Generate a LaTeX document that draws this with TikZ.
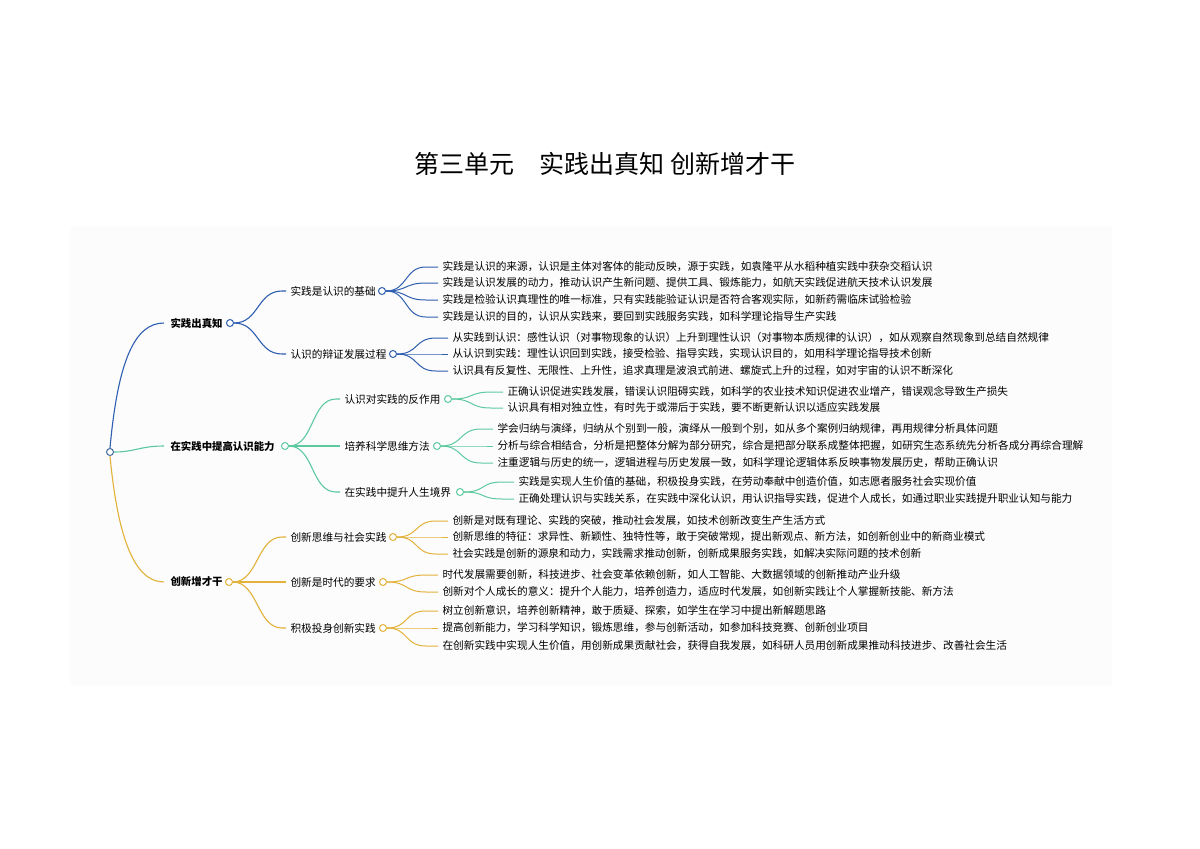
\documentclass[tikz,border=0pt]{standalone}
\usepackage{fontspec}
\setmainfont{Noto Sans CJK SC}
\usepackage{tikz}
\definecolor{bluel}{HTML}{2E5FB0}
\definecolor{greenl}{HTML}{5CC9A0}
\definecolor{orangel}{HTML}{E2B23A}
\begin{document}
\begin{tikzpicture}[x=1pt, y=-1pt, line width=1.1pt,
  txt/.style={anchor=west, inner sep=0pt, font=\fontsize{10.65}{12}\selectfont},
  dot/.style={circle, draw, fill=white, line width=1pt, inner sep=0pt, minimum size=7pt}]

\useasboundingbox (0,0) rectangle (1200,849);
\fill[gray!2] (70,226) rectangle (1112,686);

% Titre
\node (title) at (605,164) {\fontsize{25}{30}\selectfont 第三单元\quad 实践出真知 创新增才干};

% Racine
\node[dot, draw=bluel!70!gray] (R) at (110,452) {};

% Les branches principales
\node[txt, font=\fontsize{10.4}{12}\selectfont\bfseries] (M1) at (170,323) {实践出真知};
\node[txt, font=\fontsize{10.4}{12}\selectfont\bfseries] (M2) at (170,446) {在实践中提高认识能力};
\node[txt, font=\fontsize{10.4}{12}\selectfont\bfseries] (M3) at (170,582) {创新增才干};
\node[dot, draw=bluel] (m1) at (230,323) {};
\node[dot, draw=greenl] (m2) at (285,446) {};
\node[dot, draw=orangel] (m3) at (229,582) {};
\draw[bluel] (R.north) .. controls (118,360) and (135,323) .. ([xshift=-6pt]M1.west);
\draw[greenl] (R.east) .. controls (135,452) and (140,446) .. ([xshift=-6pt]M2.west);
\draw[orangel] (R.south) .. controls (118,540) and (135,582) .. ([xshift=-6pt]M3.west);

% Les sous-branches
\foreach \t/\x/\y/\cx/\col [count=\i] in {
  实践是认识的基础/290/291/382/bluel,
  认识的辩证发展过程/290/354/393/bluel,
  认识对实践的反作用/344/399/448/greenl,
  培养科学思维方法/344/446/437/greenl,
  在实践中提升人生境界/344/492/460/greenl,
  创新思维与社会实践/290/537/393/orangel,
  创新是时代的要求/290/582/383/orangel,
  积极投身创新实践/290/628/383/orangel}
{
  \node[txt] (S\i) at (\x,\y) {\t};
  \node[dot, draw=\col] (s\i) at (\cx,\y) {};
}
\foreach \p/\i/\col in {m1/1/bluel, m1/2/bluel, m2/3/greenl, m2/4/greenl, m2/5/greenl,
  m3/6/orangel, m3/7/orangel, m3/8/orangel}
  \draw[\col] (\p.east) .. controls +(25,0) and +(-25,0) .. ([xshift=-8pt]S\i.west) -- ([xshift=-4pt]S\i.west);

% Les feuilles
\foreach \s/\x/\y/\col/\t [count=\j] in {
  1/442/267/bluel/{实践是认识的来源，认识是主体对客体的能动反映，源于实践，如袁隆平从水稻种植实践中获杂交稻认识},
  1/442/283/bluel/{实践是认识发展的动力，推动认识产生新问题、提供工具、锻炼能力，如航天实践促进航天技术认识发展},
  1/442/300/bluel/{实践是检验认识真理性的唯一标准，只有实践能验证认识是否符合客观实际，如新药需临床试验检验},
  1/442/317/bluel/{实践是认识的目的，认识从实践来，要回到实践服务实践，如科学理论指导生产实践},
  2/452/338/bluel/{从实践到认识：感性认识（对事物现象的认识）上升到理性认识（对事物本质规律的认识），如从观察自然现象到总结自然规律},
  2/452/354/bluel/{从认识到实践：理性认识回到实践，接受检验、指导实践，实现认识目的，如用科学理论指导技术创新},
  2/452/371/bluel/{认识具有反复性、无限性、上升性，追求真理是波浪式前进、螺旋式上升的过程，如对宇宙的认识不断深化},
  3/507/392/greenl/{正确认识促进实践发展，错误认识阻碍实践，如科学的农业技术知识促进农业增产，错误观念导致生产损失},
  3/507/408/greenl/{认识具有相对独立性，有时先于或滞后于实践，要不断更新认识以适应实践发展},
  4/497/429/greenl/{学会归纳与演绎，归纳从个别到一般，演绎从一般到个别，如从多个案例归纳规律，再用规律分析具体问题},
  4/497/446/greenl/{分析与综合相结合，分析是把整体分解为部分研究，综合是把部分联系成整体把握，如研究生态系统先分析各成分再综合理解},
  4/497/463/greenl/{注重逻辑与历史的统一，逻辑进程与历史发展一致，如科学理论逻辑体系反映事物发展历史，帮助正确认识},
  5/518/482/greenl/{实践是实现人生价值的基础，积极投身实践，在劳动奉献中创造价值，如志愿者服务社会实现价值},
  5/518/499/greenl/{正确处理认识与实践关系，在实践中深化认识，用认识指导实践，促进个人成长，如通过职业实践提升职业认知与能力},
  6/452/521/orangel/{创新是对既有理论、实践的突破，推动社会发展，如技术创新改变生产生活方式},
  6/452/537/orangel/{创新思维的特征：求异性、新颖性、独特性等，敢于突破常规，提出新观点、新方法，如创新创业中的新商业模式},
  6/452/554/orangel/{社会实践是创新的源泉和动力，实践需求推动创新，创新成果服务实践，如解决实际问题的技术创新},
  7/442/575/orangel/{时代发展需要创新，科技进步、社会变革依赖创新，如人工智能、大数据领域的创新推动产业升级},
  7/442/592/orangel/{创新对个人成长的意义：提升个人能力，培养创造力，适应时代发展，如创新实践让个人掌握新技能、新方法},
  8/442/611/orangel/{树立创新意识，培养创新精神，敢于质疑、探索，如学生在学习中提出新解题思路},
  8/442/628/orangel/{提高创新能力，学习科学知识，锻炼思维，参与创新活动，如参加科技竞赛、创新创业项目},
  8/442/646/orangel/{在创新实践中实现人生价值，用创新成果贡献社会，获得自我发展，如科研人员用创新成果推动科技进步、改善社会生活}}
{
  \node[txt] (L\j) at (\x,\y) {\t};
  \draw[\col, line width=1pt] (s\s.east) .. controls +(22,0) and +(-22,0) .. ([xshift=-16pt]L\j.west) -- ([xshift=-4pt]L\j.west);
}

\end{tikzpicture}
\end{document}
